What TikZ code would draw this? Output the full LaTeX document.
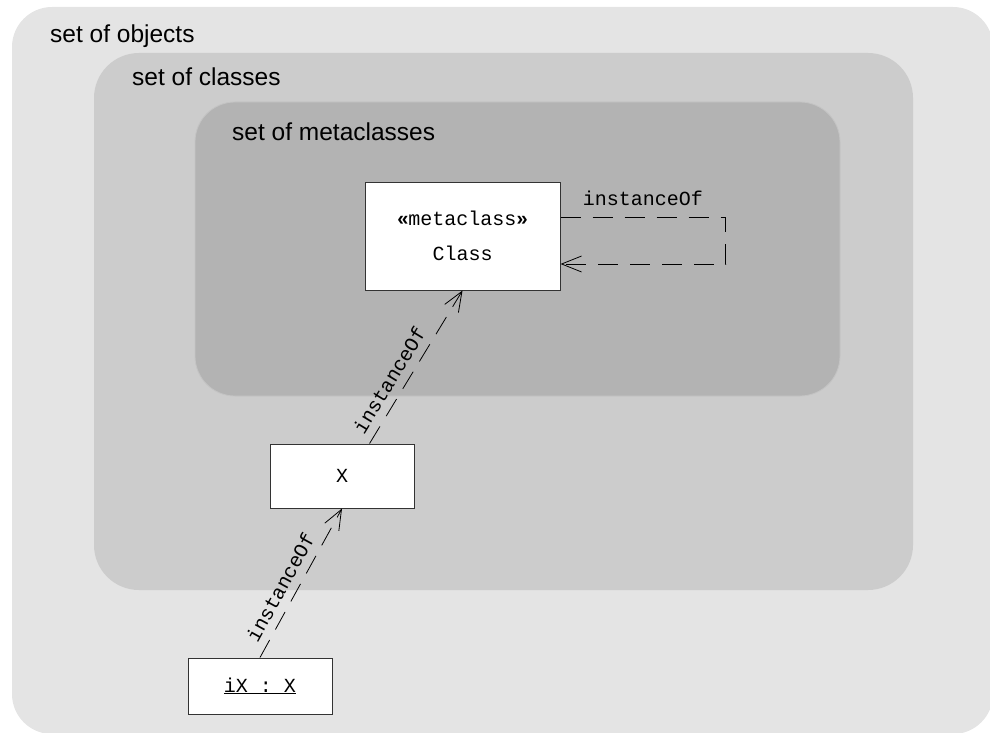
\documentclass[tikz,border=0pt]{standalone}
\usepackage{fontspec}
\setmainfont{Liberation Sans}
\setsansfont{Liberation Sans}
\setmonofont{Liberation Mono}
\usetikzlibrary{arrows.meta,calc}
\definecolor{objfill}{HTML}{E4E4E4}
\definecolor{clsfill}{HTML}{CCCCCC}
\definecolor{metafill}{HTML}{B3B3B3}
\definecolor{metaedge}{HTML}{C4C4C4}
\definecolor{boxline}{HTML}{333333}

\begin{document}
\begin{tikzpicture}[x=1pt,y=-1pt,>={Straight Barb[length=20pt,width=16pt]},
  every node/.style={font=\fontsize{20}{24}\selectfont\ttfamily},
  settitle/.style={font=\fontsize{24.5}{28}\selectfont\sffamily,anchor=base west,inner sep=0pt},
  classbox/.style={draw=boxline,fill=white,line width=1pt,inner sep=0pt,align=center},
  dep/.style={->,dash pattern=on 20pt off 12pt,line width=0.8pt}]
\useasboundingbox (0,0) rectangle (990,733);
\clip (0,0) rectangle (990,733);
% nested sets
\fill[objfill,rounded corners=40pt] (12,7) rectangle (993,734);
\fill[clsfill,rounded corners=45pt] (94,53) rectangle (913,590);
\filldraw[fill=metafill,draw=metaedge,line width=0.8pt,rounded corners=40pt] (195,102) rectangle (840,396);
\node[settitle] (objtitle) at (50,43) {set of objects};
\node[settitle] (clstitle) at (132,86) {set of classes};
\node[settitle] (metatitle) at (232,140) {set of metaclasses};
% classes and objects
\node[classbox,minimum width=195pt,minimum height=108pt] (meta) at (462.5,236)
  {{\sffamily\bfseries «}metaclass{\sffamily\bfseries »}\\[11pt]Class};
\node[classbox,minimum width=144pt,minimum height=64pt] (x) at (342,476) {X};
\node[classbox,minimum width=144pt,minimum height=56pt] (ix) at (260,686) {\underline{iX : X}};
% instanceOf links
\draw[dep] ([yshift=19pt]meta.east) -- node[above=8pt]{instanceOf} ++(165,0) |- ([yshift=-28pt]meta.east);
\draw[dep] ($(x.north west)!0.69!(x.north east)$) -- node[sloped,above=5pt,pos=0.36]{instanceOf} (meta.south);
\draw[dep] (ix.north) -- node[sloped,above=5pt,pos=0.42]{instanceOf} (x.south);
\end{tikzpicture}
\end{document}
